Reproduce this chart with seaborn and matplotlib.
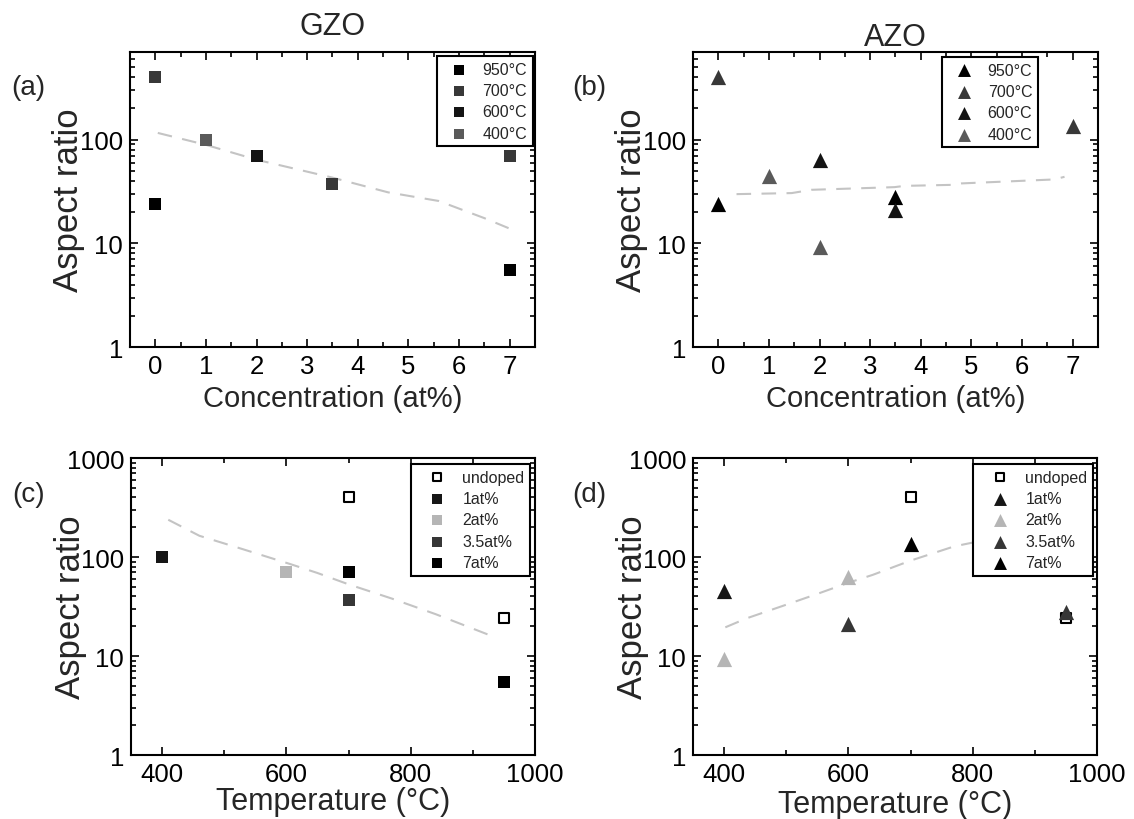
import numpy as np
import pandas as pd
import matplotlib
matplotlib.use("Agg")
import matplotlib.pyplot as plt
import seaborn as sns
from matplotlib.ticker import LogLocator, FuncFormatter, MultipleLocator, NullFormatter

# measured aspect ratios
gzo_conc = [0, 0, 1, 2, 3.5, 7, 7]
gzo_temp = [700, 950, 400, 600, 700, 700, 950]
gzo_ratio = [400, 24, 100, 70, 37, 70, 5.5]

azo_conc = [0, 0, 1, 2, 2, 3.5, 3.5, 7]
azo_temp = [700, 950, 400, 400, 600, 600, 950, 700]
azo_ratio = [400, 24, 45, 9.3, 63, 21, 28, 135]

# dashed guide curves
gzo_conc_fit_x = [0.05, 1, 2, 3.5, 4.6, 5.6, 6.5, 6.98]
gzo_conc_fit_y = [116, 89, 64, 43, 31, 25.6, 17.5, 14]
azo_conc_fit_x = [0.36, 1.45, 1.84, 3.48, 3.68, 4.6, 4.8, 6.64, 6.84]
azo_conc_fit_y = [29.8, 30.5, 32.8, 34.8, 35.8, 36.6, 37.8, 41.3, 43.8]
gzo_temp_fit_x = [410, 460, 530, 606, 650, 700, 770, 840, 932]
gzo_temp_fit_y = [238, 164, 120, 85, 69, 53, 38, 26.5, 15.8]
azo_temp_fit_x = [402, 436, 500, 548, 600, 639, 700, 770, 800]
azo_temp_fit_y = [19.5, 24, 33, 42, 55, 66, 92, 128, 140]

temp_order = ['950°C', '700°C', '600°C', '400°C']
temp_colors = {'950°C': '#000000', '700°C': '#383838', '600°C': '#141414', '400°C': '#5a5a5a'}
conc_names = {0: 'undoped', 1: '1at%', 2: '2at%', 3.5: '3.5at%', 7: '7at%'}
conc_order = ['undoped', '1at%', '2at%', '3.5at%', '7at%']
conc_colors = {'undoped': 'white', '1at%': '#161616', '2at%': '#b5b5b5', '3.5at%': '#363636', '7at%': '#000000'}


def make_df(conc, temp, ratio):
    df = pd.DataFrame({'conc': conc, 'temp': temp, 'ratio': ratio})
    df['temp_label'] = df['temp'].astype(str) + '°C'
    df['conc_label'] = df['conc'].map(conc_names)
    return df


gzo = make_df(gzo_conc, gzo_temp, gzo_ratio)
azo = make_df(azo_conc, azo_temp, azo_ratio)

sns.set_style("ticks")
plt.rcParams['font.family'] = ['Liberation Sans', 'DejaVu Sans']

fig = plt.figure(figsize=(11.34, 8.2), dpi=100)
ax_a = fig.add_axes([0.1146, 0.5756, 0.3571, 0.3598])
ax_b = fig.add_axes([0.6111, 0.5756, 0.3571, 0.3598])
ax_c = fig.add_axes([0.1155, 0.0780, 0.3563, 0.3622])
ax_d = fig.add_axes([0.6111, 0.0780, 0.3563, 0.3622])

guide = dict(color='#c4c4c4', lw=1.5, dashes=(7, 5), zorder=1)


def style_axis(ax, temp_axis):
    ax.set_yscale('log')
    ax.yaxis.set_major_locator(LogLocator(base=10))
    ax.yaxis.set_minor_locator(LogLocator(base=10, subs=np.arange(2, 10)))
    ax.yaxis.set_major_formatter(FuncFormatter(lambda v, p: f'{v:g}'))
    ax.yaxis.set_minor_formatter(NullFormatter())
    if temp_axis:
        ax.set_xlim(350, 1000)
        ax.set_ylim(1, 1000)
        ax.xaxis.set_major_locator(MultipleLocator(200))
        ax.xaxis.set_minor_locator(MultipleLocator(100))
    else:
        ax.set_xlim(-0.5, 7.5)
        ax.set_ylim(1, 700)
        ax.xaxis.set_major_locator(MultipleLocator(1))
        ax.xaxis.set_minor_locator(MultipleLocator(0.5))
    ax.tick_params(which='both', direction='in', top=True, right=True,
                   colors='black', width=1.2, labelsize=18.5, pad=5)
    ax.tick_params(which='major', length=6)
    ax.tick_params(which='minor', length=3.5)
    for sp in ax.spines.values():
        sp.set_linewidth(1.5)
        sp.set_color('black')
    ax.set_ylabel('Aspect ratio', fontsize=25)
    ax.yaxis.set_label_coords(-0.11, 0.5)


def add_legend(ax, anchor, hl, tp):
    leg = ax.legend(loc='upper right', bbox_to_anchor=anchor, borderaxespad=0,
                    fontsize=11.5, frameon=True, fancybox=False, framealpha=1,
                    edgecolor='black', borderpad=0.35, labelspacing=0.4,
                    handlelength=hl, handletextpad=tp, markerscale=0.85)
    leg.get_frame().set_linewidth(1.5)


# (a) GZO vs concentration
sns.lineplot(x=gzo_conc_fit_x, y=gzo_conc_fit_y, ax=ax_a, **guide)
for lab in temp_order:
    sub = gzo[gzo['temp_label'] == lab]
    sns.scatterplot(data=sub, x='conc', y='ratio', ax=ax_a, marker='s', s=70,
                    color=temp_colors[lab], linewidth=0, label=lab, zorder=3)
style_axis(ax_a, False)
ax_a.set_xlabel('Concentration (at%)', fontsize=21)
ax_a.xaxis.set_label_coords(0.5, -0.125)
add_legend(ax_a, (0.995, 0.986), 2.0, 0.5)

# (b) AZO vs concentration
sns.lineplot(x=azo_conc_fit_x, y=azo_conc_fit_y, ax=ax_b, **guide)
for lab in temp_order:
    sub = azo[azo['temp_label'] == lab]
    sns.scatterplot(data=sub, x='conc', y='ratio', ax=ax_b, marker='^', s=120,
                    color=temp_colors[lab], linewidth=0, label=lab, zorder=3)
style_axis(ax_b, False)
ax_b.set_xlabel('Concentration (at%)', fontsize=21)
ax_b.xaxis.set_label_coords(0.5, -0.125)
add_legend(ax_b, (0.852, 0.983), 2.0, 0.5)

# (c) GZO vs temperature
sns.lineplot(x=gzo_temp_fit_x, y=gzo_temp_fit_y, ax=ax_c, **guide)
for lab in conc_order:
    sub = gzo[gzo['conc_label'] == lab]
    if lab == 'undoped':
        sns.scatterplot(data=sub, x='temp', y='ratio', ax=ax_c, marker='s', s=50,
                        color='white', edgecolor='black', linewidth=1.5, label=lab, zorder=3)
    else:
        sns.scatterplot(data=sub, x='temp', y='ratio', ax=ax_c, marker='s', s=80,
                        color=conc_colors[lab], linewidth=0, label=lab, zorder=3)
style_axis(ax_c, True)
ax_c.set_xlabel('Temperature (°C)', fontsize=22)
ax_c.xaxis.set_label_coords(0.5, -0.105)
add_legend(ax_c, (0.988, 0.98), 2.6, 0.3)

# (d) AZO vs temperature
sns.lineplot(x=azo_temp_fit_x, y=azo_temp_fit_y, ax=ax_d, **guide)
for lab in conc_order:
    sub = azo[azo['conc_label'] == lab]
    if lab == 'undoped':
        sns.scatterplot(data=sub, x='temp', y='ratio', ax=ax_d, marker='s', s=50,
                        color='white', edgecolor='black', linewidth=1.5, label=lab, zorder=3)
    else:
        sns.scatterplot(data=sub, x='temp', y='ratio', ax=ax_d, marker='^', s=120,
                        color=conc_colors[lab], linewidth=0, label=lab, zorder=3)
style_axis(ax_d, True)
ax_d.set_xlabel('Temperature (°C)', fontsize=22)
ax_d.xaxis.set_label_coords(0.5, -0.115)
add_legend(ax_d, (0.99, 0.98), 2.6, 0.3)

ax_a.set_title('GZO', fontsize=22, pad=13)
ax_b.set_title('AZO', fontsize=22, pad=3)

for txt, x, y in [('(a)', 0.025, 0.893), ('(b)', 0.52, 0.893),
                  ('(c)', 0.025, 0.396), ('(d)', 0.52, 0.396)]:
    fig.text(x, y, txt, fontsize=20, ha='center', va='center')

fig.savefig('out.png', dpi=100)
